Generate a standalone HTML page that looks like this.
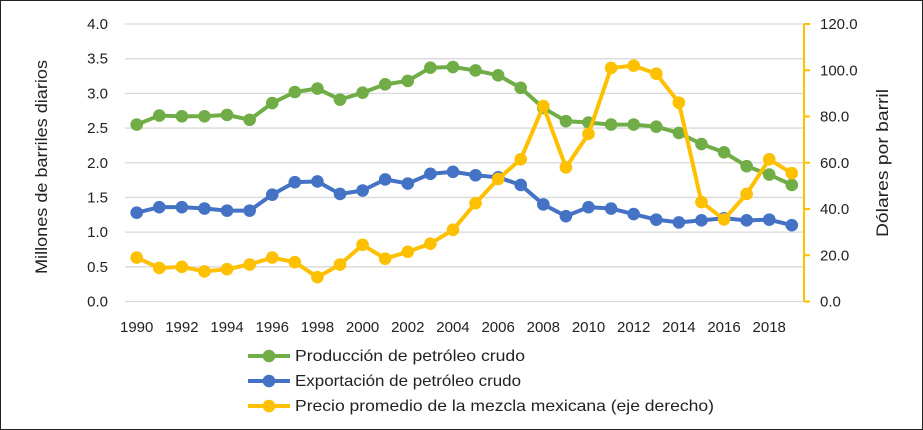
<!DOCTYPE html>
<html><head><meta charset="utf-8"><style>
html,body{margin:0;padding:0;background:#fff}
svg{display:block;font-family:"Liberation Sans",sans-serif}
</style></head><body>
<svg id="chart" width="923" height="430" viewBox="0 0 923 430">
<rect x="0.5" y="0.5" width="922" height="429" fill="#fff" stroke="#222"/>
<g id="grid"></g><g id="series"></g><g id="axes"></g>
<text x="0" y="0" transform="translate(47,167) rotate(-90)" text-anchor="middle" font-size="17" textLength="214" lengthAdjust="spacingAndGlyphs" fill="#222">Millones de barriles diarios</text>
<text x="0" y="0" transform="translate(888,163) rotate(-90)" text-anchor="middle" font-size="17" textLength="148" lengthAdjust="spacingAndGlyphs" fill="#222">Dólares por barril</text>
<g id="legend"></g>
</svg>
<script>
const years=[1990,1991,1992,1993,1994,1995,1996,1997,1998,1999,2000,2001,2002,2003,2004,2005,2006,2007,2008,2009,2010,2011,2012,2013,2014,2015,2016,2017,2018,2019];
const produccion=[2.55,2.68,2.67,2.67,2.69,2.62,2.86,3.02,3.07,2.91,3.01,3.13,3.18,3.37,3.38,3.33,3.26,3.08,2.79,2.60,2.58,2.55,2.55,2.52,2.43,2.27,2.15,1.95,1.83,1.68];
const exportacion=[1.28,1.36,1.36,1.34,1.31,1.31,1.54,1.72,1.73,1.55,1.60,1.76,1.70,1.84,1.87,1.82,1.79,1.68,1.40,1.23,1.36,1.34,1.26,1.18,1.14,1.17,1.20,1.17,1.18,1.10];
const precio=[19,14.5,15,13,14,16,19,17,10.5,16,24.5,18.5,21.5,25,31,42.5,53,61.5,84.5,58,72.5,101,102,98.5,86,43,35.5,46.5,61.5,55.5];
const leftTicks=["0.0","0.5","1.0","1.5","2.0","2.5","3.0","3.5","4.0"];
const rightTicks=["0.0","20.0","40.0","60.0","80.0","100.0","120.0"];
const xLabels=[1990,1992,1994,1996,1998,2000,2002,2004,2006,2008,2010,2012,2014,2016,2018];
const NS="http://www.w3.org/2000/svg";
const top_=24,bot=301.5,x0=136.7,dx=22.59;
const x=y=>x0+(y-1990)*dx;
const yL=v=>bot-(v/4)*(bot-top_);
const yR=v=>bot-(v/120)*(bot-top_);
function mk(t,a,p){const e=document.createElementNS(NS,t);for(const k in a)e.setAttribute(k,a[k]);p.appendChild(e);return e;}
const grid=document.getElementById('grid'),axes=document.getElementById('axes'),ser=document.getElementById('series'),leg=document.getElementById('legend');
leftTicks.forEach(t=>{const yy=yL(+t);
const l=mk('line',{x1:125,x2:804,y1:yy,y2:yy,stroke:'#d9d9d9','stroke-width':1.3},grid);


const tx=mk('text',{x:108,y:yy+5,'text-anchor':'end','font-size':15,fill:'#222'},axes);tx.textContent=t;

});
const ra=mk('line',{x1:804,x2:804,y1:top_,y2:bot,stroke:'#ffc000','stroke-width':2},axes);


rightTicks.forEach(t=>{const yy=yR(+t);
mk('line',{x1:804,x2:810,y1:yy,y2:yy,stroke:'#ffc000','stroke-width':2},axes);
const tx=mk('text',{x:820,y:yy+5,'font-size':15,fill:'#222'},axes);tx.textContent=t;

});
xLabels.forEach(t=>{const tx=mk('text',{x:x(t),y:332,'text-anchor':'middle','font-size':15,fill:'#222'},axes);tx.textContent=t;

});
function draw(vals,yf,col,name){
const g=mk('g',{},ser);


const pl=mk('polyline',{points:vals.map((v,i)=>x(years[i])+','+yf(v)).join(' '),fill:'none',stroke:col,'stroke-width':4,'stroke-linejoin':'round'},g);


vals.forEach((v,i)=>{const c=mk('circle',{cx:x(years[i]),cy:yf(v),r:6.3,fill:col},g);

});}
draw(produccion,yL,'#70ad47','produccion');
draw(exportacion,yL,'#4472c4','exportacion');
draw(precio,yR,'#ffc000','precio');
[['Producción de petróleo crudo','#70ad47',356,230],['Exportación de petróleo crudo','#4472c4',381,226],['Precio promedio de la mezcla mexicana (eje derecho)','#ffc000',406,419]].forEach(([t,c,yy,w])=>{
const g=mk('g',{},leg);


mk('line',{x1:248,x2:290,y1:yy,y2:yy,stroke:c,'stroke-width':4},g);
mk('circle',{cx:269,cy:yy,r:6.3,fill:c},g);
const tx=mk('text',{x:295,y:yy+5,'font-size':16,textLength:w,lengthAdjust:'spacingAndGlyphs',fill:'#222'},g);tx.textContent=t;});
</script>
</body></html>
